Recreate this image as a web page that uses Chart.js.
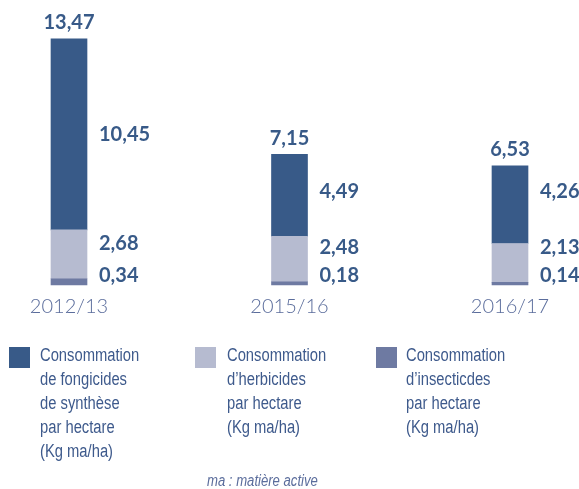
<!DOCTYPE html>
<html>
<head>
<meta charset="utf-8">
<script src="https://cdn.jsdelivr.net/npm/chart.js@4"></script>
<style>
  body { margin: 0; background: #fff; }
  #wrap { position: relative; width: 579px; height: 489px; }
  #chart { position: absolute; left: 0; top: 0; }
  .leg { position: absolute; top: 343px; font-family: "Liberation Sans", Arial, sans-serif; font-size: 18px; line-height: 24px; color: #3e5a8c; transform: scaleX(0.82); transform-origin: 0 0; white-space: nowrap; }
  .sq { position: absolute; top: 347px; width: 21px; height: 21px; }
  #note { position: absolute; left: 207px; top: 472px; font-family: "Liberation Sans", Arial, sans-serif; font-style: italic; font-size: 16px; color: #5b6d9c; transform: scaleX(0.82); transform-origin: 0 0; white-space: nowrap; }
</style>
</head>
<body>
<div id="wrap">
  <canvas id="chart" width="579" height="489"></canvas>
  <div class="sq" style="left:9px;background:#385a88"></div>
  <div class="leg" style="left:40px">Consommation<br>de fongicides<br>de synthèse<br>par hectare<br>(Kg ma/ha)</div>
  <div class="sq" style="left:195px;background:#b6bbd0"></div>
  <div class="leg" style="left:227px">Consommation<br>d’herbicides<br>par hectare<br>(Kg ma/ha)</div>
  <div class="sq" style="left:376px;background:#6e7aa2"></div>
  <div class="leg" style="left:406px">Consommation<br>d’insecticdes<br>par hectare<br>(Kg ma/ha)</div>
  <div id="note">ma : matière active</div>
</div>
<script>
const annees = ["2012/13", "2015/16", "2016/17"];
const fongicides = [10.45, 4.49, 4.26];
const herbicides = [2.68, 2.48, 2.13];
const insecticides = [0.34, 0.18, 0.14];
const totaux = [13.47, 7.15, 6.53];

function fmt(v) {
  return v.toFixed(2).replace(".", ",");
}

// etiquettes des valeurs (a droite des segments, total au dessus)
const etiquettes = {
  id: "etiquettes",
  afterDatasetsDraw(chart) {
    const ctx = chart.ctx;
    const mIns = chart.getDatasetMeta(0);
    const mHer = chart.getDatasetMeta(1);
    const mFon = chart.getDatasetMeta(2);
    ctx.save();
    ctx.fillStyle = "#385a88";
    ctx.font = "bold 20px Lato, sans-serif";
    ctx.textBaseline = "middle";
    for (let i = 0; i < annees.length; i++) {
      const bi = mIns.data[i], bh = mHer.data[i], bf = mFon.data[i];
      const xr = bf.x + bf.width / 2 + 12;
      const yIns = bi.base - 9;
      const yHer = Math.min(bh.y + 14, yIns - 28);
      const yFon = Math.min((bf.y + bf.base) / 2, yHer - 56);
      ctx.textAlign = "left";
      ctx.fillText(fmt(fongicides[i]), xr, yFon);
      ctx.fillText(fmt(herbicides[i]), xr, yHer);
      ctx.fillText(fmt(insecticides[i]), xr, yIns);
      ctx.textAlign = "center";
      ctx.fillText(fmt(totaux[i]), bf.x, bf.y - 16);
    }
    ctx.restore();
  }
};

const ctx = document.getElementById("chart").getContext("2d");
const chart = new Chart(ctx, {
  type: "bar",
  data: {
    labels: annees,
    datasets: [
      { label: "insecticides", data: insecticides, backgroundColor: "#6e7aa2" },
      { label: "herbicides", data: herbicides, backgroundColor: "#b6bbd0" },
      { label: "fongicides", data: fongicides, backgroundColor: "#385a88" }
    ]
  },
  options: {
    responsive: false,
    animation: false,
    layout: { padding: { left: 69, right: 69, top: 11, bottom: 160 } },
    datasets: { bar: { barThickness: 36, clip: false } },
    plugins: { legend: { display: false }, tooltip: { enabled: false } },
    scales: {
      x: {
        stacked: true,
        offset: false,
        grid: { display: false, drawTicks: false },
        border: { display: false },
        ticks: { padding: 10, color: "#5b6d9c", font: { family: "Lato", weight: 300, size: 20 } }
      },
      y: {
        stacked: true,
        display: false,
        min: 0,
        max: 15
      }
    }
  },
  plugins: [etiquettes]
});
</script>
</body>
</html>
